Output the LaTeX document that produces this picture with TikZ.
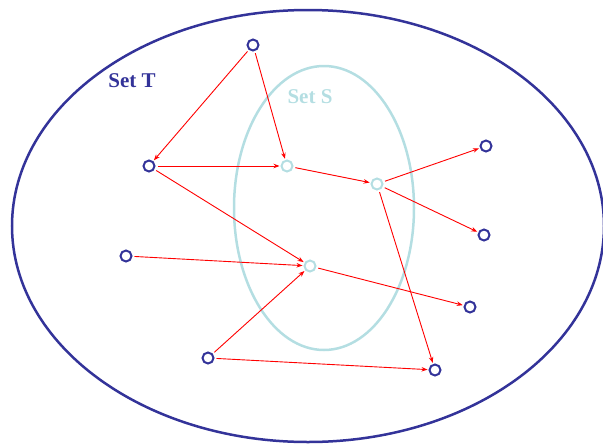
\documentclass[tikz,border=0pt]{standalone}
\usepackage{fontspec}
\setmainfont{Liberation Serif}
\usetikzlibrary{arrows.meta}
\definecolor{darkb}{HTML}{333399}
\definecolor{lightb}{HTML}{B4DEE2}
\begin{document}
\begin{tikzpicture}[x=1pt,y=-1pt,
  dnode/.style={circle,draw=darkb,line width=2pt,minimum size=11pt,inner sep=0pt},
  lnode/.style={circle,draw=lightb,line width=2pt,minimum size=11pt,inner sep=0pt},
  edge/.style={red,line width=0.9pt,-{Stealth[length=6pt,width=4.5pt]},shorten >=1pt,shorten <=2pt}]
\useasboundingbox (0,0) rectangle (603,445);
\draw[darkb,line width=2.5pt] (308,226) ellipse [x radius=296,y radius=216];
\draw[lightb,line width=2.5pt] (324,208) ellipse [x radius=90,y radius=142];
\node[darkb,font=\bfseries\fontsize{21}{21}\selectfont] (tl) at (132,81) {Set T};
\node[lightb,font=\bfseries\fontsize{21}{21}\selectfont] (sl) at (310,97) {Set S};
\node[dnode] (A) at (253,45) {};
\node[dnode] (B) at (149,166) {};
\node[lnode] (C) at (287,166) {};
\node[lnode] (D) at (377,184) {};
\node[dnode] (E) at (486,146) {};
\node[dnode] (F) at (484,235) {};
\node[dnode] (G) at (126,256) {};
\node[lnode] (H) at (310,266) {};
\node[dnode] (I) at (470,307) {};
\node[dnode] (J) at (208,358) {};
\node[dnode] (K) at (435,370) {};
\draw[edge] (A) -- (B);
\draw[edge] (A) -- (C);
\draw[edge] (B) -- (C);
\draw[edge] (B) -- (H);
\draw[edge] (C) -- (D);
\draw[edge] (D) -- (E);
\draw[edge] (D) -- (F);
\draw[edge] (D) -- (K);
\draw[edge] (G) -- (H);
\draw[edge] (H) -- (I);
\draw[edge] (J) -- (H);
\draw[edge] (J) -- (K);
\end{tikzpicture}
\end{document}
